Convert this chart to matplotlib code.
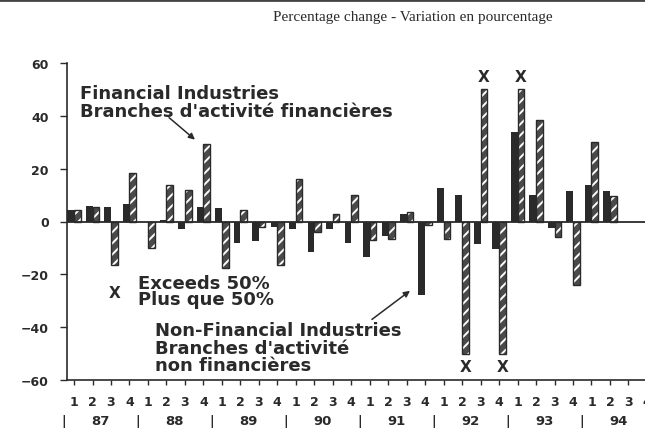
import matplotlib.pyplot as plt
import numpy as np

# quarterly % change, 1987Q1 .. 1994Q4
years = ["87", "88", "89", "90", "91", "92", "93", "94"]
quarters = ["1", "2", "3", "4"]
non_financial = [4.5, 6, 5.5, 6.5, 0, 0.5, -3, 5.5,
                 5, -8, -7.5, -2, -3, -11.5, -3, -8,
                 -13.5, -5.5, 3, -28, 12.5, 10, -8.5, -10.5,
                 34, 10, -2.5, 11.5, 14, 11.5, np.nan, np.nan]
financial = [4.5, 5.5, -16.5, 18.5, -10, 14, 12, 29.5,
             -17.5, 4.5, -2, -16.5, 16, -4, 3, 10,
             -7, -6.5, 3.5, -1.5, -6.5, -50, 50, -50,
             50, 38.5, -6, -24, 30, 9.5, np.nan, np.nan]
cap = 50  # bars reaching the cap exceed 50%

dark = "#2a2a2a"
plt.rcParams["hatch.linewidth"] = 1.4

fig = plt.figure(figsize=(6.45, 4.39), dpi=100)
ax = fig.add_axes([67 / 645, 58 / 439, 591 / 645, 317 / 439])

x = np.arange(len(non_financial))
w = 0.36
ax.bar(x - w / 2, non_financial, w, color=dark, linewidth=0)
ax.bar(x + w / 2, financial, w, color="#4a4a4a", edgecolor="white",
       hatch="///", linewidth=0)
ax.bar(x + w / 2, financial, w, fill=False, edgecolor=dark, linewidth=1.0)

# X markers for values beyond 50%
for i, v in enumerate(financial):
    if abs(v) >= cap:
        ax.text(i + w / 2, np.sign(v) * 55, "X", ha="center", va="center",
                fontsize=11, fontweight="bold", color=dark)

ax.axhline(0, color=dark, linewidth=1.3)

ax.set_xlim(-0.38, 31.6)
ax.set_ylim(-60, 60)
ax.set_yticks(np.arange(-60, 61, 20))
ax.set_xticks(x)
ax.set_xticklabels(quarters * len(years))
for s in ["top", "right"]:
    ax.spines[s].set_visible(False)
for s in ["left", "bottom"]:
    ax.spines[s].set_color(dark)
    ax.spines[s].set_linewidth(1.2)
ax.tick_params(axis="y", length=5, width=1, color=dark, pad=8,
               labelsize=9, labelcolor=dark)
ax.tick_params(axis="x", length=3.6, width=1, color=dark, pad=7,
               labelsize=9, labelcolor=dark)
for lab in ax.get_xticklabels() + ax.get_yticklabels():
    lab.set_fontweight("bold")

# year row
tr = ax.get_xaxis_transform()
for k, yr in enumerate(years):
    ax.text(4 * k - 0.55, -0.129, "|", transform=tr, ha="center", va="center",
            fontsize=9, fontweight="bold", color=dark)
    ax.text(4 * k + 1.45, -0.129, yr, transform=tr, ha="center", va="center",
            fontsize=9.5, fontweight="bold", color=dark)

tk = dict(fontsize=13, fontweight="bold", color=dark, va="center", ha="left")
ax.text(0.32, 48.8, "Financial Industries", **tk)
ax.text(0.32, 42.0, "Branches d'activité financières", **tk)
ax.annotate("", xy=(6.66, 30.3), xytext=(5.03, 40.0),
            arrowprops=dict(arrowstyle="-|>", color=dark, lw=1.1,
                            mutation_scale=9))

ax.text(2.2, -26.9, "X", ha="center", va="center", fontsize=11,
        fontweight="bold", color=dark)
ax.text(3.46, -23.1, "Exceeds 50%", **tk)
ax.text(3.46, -29.5, "Plus que 50%", **tk)

ax.text(4.38, -41.2, "Non-Financial Industries", **tk)
ax.text(4.38, -47.9, "Branches d'activité", **tk)
ax.text(4.38, -54.3, "non financières", **tk)
ax.annotate("", xy=(18.3, -25.6), xytext=(16.0, -37.7),
            arrowprops=dict(arrowstyle="-|>", color=dark, lw=1.1,
                            mutation_scale=9))

fig.text(413 / 645, 1 - 18 / 439, "Percentage change - Variation en pourcentage",
         ha="center", va="center", fontsize=11, family="Liberation Serif",
         color=dark)
fig.add_artist(plt.Line2D([0, 1], [1 - 1 / 439, 1 - 1 / 439],
                          transform=fig.transFigure, color="#444444", lw=2))

fig.savefig("out.png", dpi=100)
